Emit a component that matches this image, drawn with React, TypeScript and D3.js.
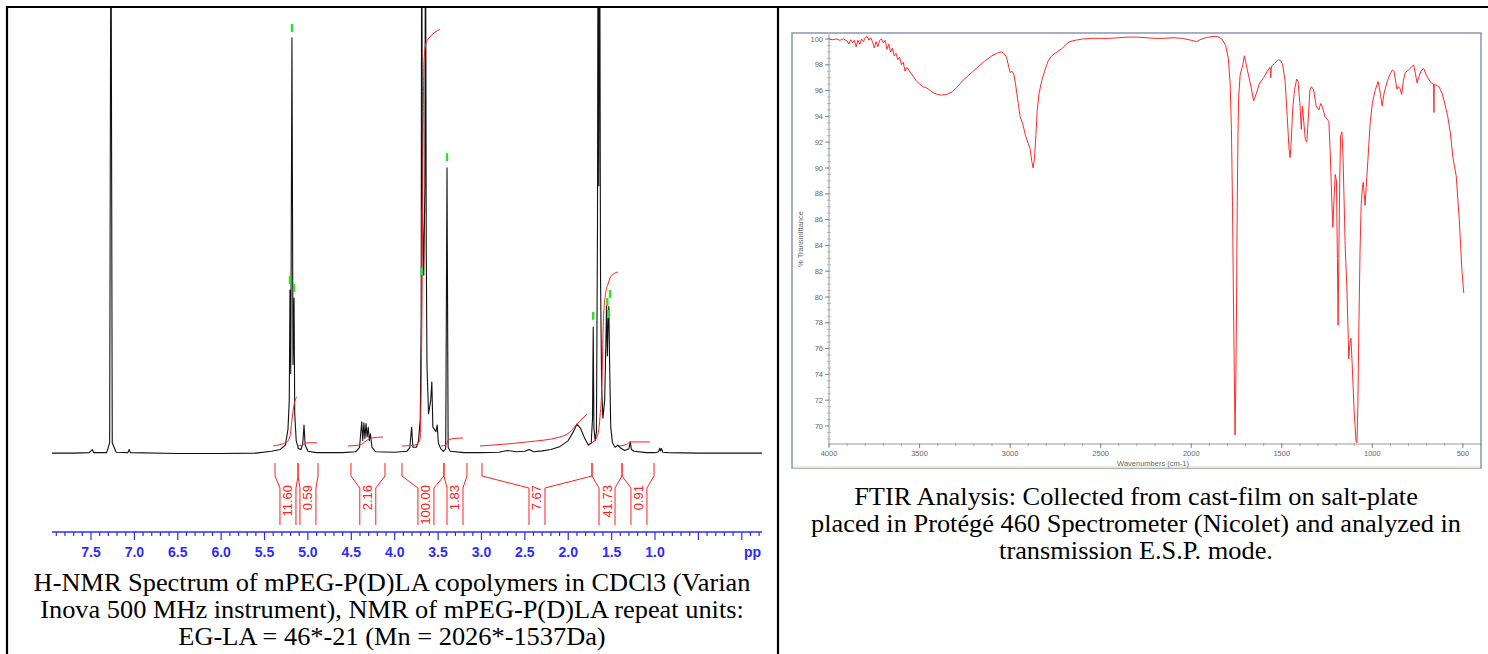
import { useEffect, useRef } from 'react';
import * as d3 from 'd3';

const W = 1488;
const H = 654;

// 1H NMR trace: [ppm, intensity], 100 ~ top of the frame
const NMR_TRACE: [number, number][] = [
  [7.95, 0.2], [7.7, 0.2], [7.52, 0.3], [7.485, 1.0], [7.47, 0.3], [7.32, 0.3], [7.285, 2.5],
  [7.27, 130], [7.255, 2.5], [7.21, 0.4], [7.075, 0.3], [7.06, 1.0], [7.045, 0.3], [6.5, 0.1],
  [6.0, 0.1], [5.6, 0.2], [5.42, 0.6], [5.32, 1.0], [5.26, 2.0], [5.23, 5.5], [5.215, 12],
  [5.207, 36.7], [5.198, 18], [5.184, 93.1], [5.172, 20], [5.16, 34.9], [5.152, 9], [5.135, 3],
  [5.11, 1.2], [5.08, 1.0], [5.06, 2.2], [5.045, 6.5], [5.032, 2], [5.0, 0.6], [4.9, 0.3],
  [4.6, 0.3], [4.45, 0.5], [4.405, 1.5], [4.38, 7.2], [4.368, 3], [4.355, 7.0], [4.343, 3.5],
  [4.33, 6.8], [4.318, 3.8], [4.305, 6.0], [4.292, 3], [4.28, 4.5], [4.262, 1.5], [4.22, 0.5],
  [4.0, 0.4], [3.86, 0.6], [3.825, 1.5], [3.805, 6.0], [3.79, 1.5], [3.75, 1.5], [3.725, 3],
  [3.705, 8], [3.695, 30], [3.689, 130], [3.68, 55], [3.665, 40], [3.652, 60], [3.645, 130],
  [3.636, 45], [3.628, 19.9], [3.61, 9], [3.585, 12], [3.572, 16.1], [3.56, 6], [3.525, 5],
  [3.51, 6.5], [3.497, 2.5], [3.47, 1.2], [3.44, 0.6], [3.412, 1.2], [3.397, 64], [3.384, 1.5],
  [3.36, 0.6], [3.2, 0.3], [3.0, 0.3], [2.8, 0.4], [2.7, 0.8], [2.6, 0.5], [2.5, 0.6],
  [2.45, 1.0], [2.4, 0.5], [2.3, 0.7], [2.2, 1.0], [2.1, 1.6], [2.0, 3.0], [1.94, 5.0],
  [1.9, 6.7], [1.86, 5.8], [1.81, 3.5], [1.77, 2.0], [1.735, 2.5], [1.72, 8], [1.712, 28.4],
  [1.704, 6], [1.69, 3], [1.675, 5], [1.663, 50], [1.656, 130], [1.648, 60], [1.638, 130],
  [1.628, 40], [1.615, 15], [1.6, 8], [1.58, 12], [1.566, 25], [1.558, 33.3], [1.549, 22],
  [1.54, 30], [1.532, 33], [1.523, 20], [1.51, 6], [1.49, 2.5], [1.46, 1.5], [1.43, 2.0],
  [1.40, 1.4], [1.35, 0.8], [1.30, 1.2], [1.285, 2.7], [1.272, 1.0], [1.24, 0.6], [1.1, 0.3],
  [1.0, 0.3], [0.96, 0.5], [0.945, 1.3], [0.935, 0.7], [0.925, 1.2], [0.91, 0.4], [0.85, 0.3],
  [0.5, 0.2], [0.0, 0.2], [-0.3, 0.2],
];

// integral curves (red), one list per region
const NMR_INTEGRALS: [number, number][][] = [
  [[5.402, 1.8], [5.241, 2.7], [5.207, 4.0], [5.184, 7.6], [5.16, 11], [5.126, 12.8]],
  [[5.126, 1.8], [5.057, 2.0], [5.022, 2.5], [4.895, 2.5]],
  [[4.538, 1.8], [4.4, 2.0], [4.331, 2.9], [4.262, 3.6], [4.135, 3.8]],
  [[3.916, 1.8], [3.766, 2.0], [3.708, 3.1], [3.685, 34], [3.674, 68], [3.662, 88],
    [3.639, 92], [3.593, 93.3], [3.478, 95]],
  [[3.466, 1.8], [3.409, 2.0], [3.386, 3.1], [3.34, 3.4], [3.213, 3.6]],
  [[3.017, 1.8], [2.475, 2.7], [2.095, 3.8], [1.98, 4.9], [1.899, 6.7], [1.784, 8.9]],
  [[1.772, 1.8], [1.714, 2.7], [1.668, 3.8], [1.634, 8.3], [1.611, 16], [1.599, 27],
    [1.576, 35], [1.542, 38], [1.496, 40], [1.427, 40.7]],
  [[1.415, 1.8], [1.323, 2.2], [1.288, 2.7], [1.058, 2.7]],
];

const INTEGRAL_REGIONS = [
  { from: 5.379, to: 5.114, mid: 5.23, value: '11.60' },
  { from: 5.114, to: 4.884, mid: 5.0, value: '0.59' },
  { from: 4.504, to: 4.112, mid: 4.31, value: '2.16' },
  { from: 3.916, to: 3.432, mid: 3.64, value: '100.00' },
  { from: 3.432, to: 3.167, mid: 3.305, value: '1.83' },
  { from: 2.994, to: 1.726, mid: 2.36, value: '7.67' },
  { from: 1.726, to: 1.38, mid: 1.553, value: '41.73' },
  { from: 1.38, to: 1.011, mid: 1.185, value: '0.91' },
];

// green peak-pick marks: [ppm, intensity at top of mark]
const PEAK_PICKS: [number, number][] = [
  [5.184, 96.2], [5.207, 39.8], [5.16, 38.0], [3.397, 67.3], [3.689, 41.8],
  [1.712, 31.8], [1.55, 34.9], [1.518, 36.7], [1.54, 32.2],
];

const PPM_LABELS = [7.5, 7.0, 6.5, 6.0, 5.5, 5.0, 4.5, 4.0, 3.5, 3.0, 2.5, 2.0, 1.5, 1.0];

// FTIR trace: [wavenumber cm-1, %T]
const FTIR_TRACE: [number, number][] = [
  [4000, 100.0], [3980, 99.95], [3960, 100.0], [3940, 99.9], [3920, 100.0], [3900, 99.85],
  [3890, 99.6], [3880, 99.95], [3870, 99.7], [3860, 99.9], [3850, 99.4], [3840, 99.9],
  [3830, 99.6], [3820, 100.0], [3810, 99.8], [3800, 100.1], [3790, 100.2], [3780, 99.9],
  [3770, 100.1], [3760, 99.8], [3750, 99.3], [3740, 99.8], [3730, 99.4], [3720, 99.9],
  [3710, 100.0], [3700, 99.7], [3690, 99.9], [3680, 99.2], [3670, 99.6], [3660, 99.0],
  [3650, 99.3], [3640, 98.7], [3630, 98.9], [3620, 98.4], [3610, 98.6], [3600, 98.0],
  [3590, 98.2], [3580, 97.5], [3570, 97.8], [3550, 97.4], [3520, 96.8], [3500, 96.5],
  [3480, 96.3], [3460, 96.2], [3440, 96.0], [3420, 95.8], [3400, 95.7], [3380, 95.65],
  [3350, 95.7], [3320, 95.9], [3290, 96.3], [3260, 96.8], [3220, 97.3], [3180, 97.8],
  [3140, 98.3], [3100, 98.7], [3070, 98.9], [3050, 99.0], [3035, 98.9], [3020, 98.6],
  [3010, 98.0], [3000, 97.4], [2990, 97.5], [2980, 97.3], [2970, 96.5], [2955, 95.0],
  [2945, 94.0], [2930, 93.4], [2915, 92.5], [2900, 91.9], [2890, 91.5], [2880, 90.5],
  [2873, 90.0], [2865, 90.8], [2858, 92.5], [2850, 94.5], [2840, 95.8], [2825, 96.8],
  [2810, 97.5], [2790, 98.3], [2770, 98.7], [2740, 99.0], [2710, 99.3], [2690, 99.6],
  [2670, 99.8], [2640, 99.9], [2600, 100.0], [2550, 100.05], [2500, 100.05], [2450, 100.05],
  [2400, 100.1], [2350, 100.15], [2300, 100.15], [2250, 100.1], [2200, 100.05], [2150, 100.05],
  [2100, 100.1], [2050, 100.05], [2000, 99.9], [1970, 99.8], [1950, 99.95], [1920, 100.1],
  [1880, 100.2], [1855, 100.2], [1830, 100.0], [1810, 99.5], [1795, 98.5], [1785, 96.5],
  [1778, 93.0], [1772, 87.0], [1767, 80.0], [1762, 74.0], [1758, 69.3], [1754, 73.0],
  [1750, 79.0], [1746, 87.0], [1742, 92.5], [1738, 95.5], [1730, 97.2], [1715, 98.0],
  [1707, 98.7], [1700, 98.3], [1690, 97.6], [1670, 96.3], [1655, 95.2], [1640, 95.8],
  [1625, 96.5], [1600, 97.0], [1580, 97.5], [1565, 97.8], [1561, 97.0], [1557, 97.9],
  [1540, 98.1], [1520, 98.4], [1505, 98.3], [1495, 98.0], [1482, 96.8], [1470, 94.0],
  [1460, 91.5], [1454, 90.8], [1448, 92.0], [1440, 94.5], [1430, 96.0], [1418, 96.9],
  [1410, 96.7], [1400, 95.0], [1392, 93.0], [1386, 94.8], [1378, 93.5], [1370, 92.2],
  [1362, 92.0], [1355, 93.5], [1345, 96.0], [1337, 96.3], [1325, 96.1], [1310, 94.8],
  [1295, 94.5], [1285, 95.0], [1275, 94.7], [1262, 94.0], [1250, 93.8], [1240, 93.6],
  [1232, 91.0], [1225, 88.0], [1218, 85.4], [1212, 87.5], [1205, 89.5], [1198, 89.0],
  [1193, 83.0], [1189, 77.8], [1185, 83.0], [1180, 89.0], [1175, 92.5], [1168, 92.8],
  [1162, 91.0], [1150, 84.0], [1140, 80.5], [1130, 75.2], [1124, 76.4], [1118, 76.8],
  [1112, 75.0], [1100, 71.0], [1090, 68.8], [1085, 68.7], [1080, 71.5], [1074, 78.0],
  [1068, 83.5], [1062, 87.0], [1055, 88.5], [1050, 88.9], [1045, 88.0], [1040, 87.1],
  [1034, 88.5], [1025, 90.5], [1012, 93.5], [1000, 95.0], [985, 96.0], [968, 96.7],
  [955, 95.7], [946, 94.8], [935, 95.8], [920, 96.6], [905, 97.2], [890, 97.6], [880, 97.5],
  [870, 96.6], [864, 96.1], [858, 96.3], [848, 96.2], [838, 95.7], [828, 96.8], [818, 97.4],
  [800, 97.6], [785, 97.8], [772, 98.0], [762, 97.3], [753, 96.6], [740, 97.2], [728, 97.6],
  [716, 97.7], [705, 97.3], [690, 96.9], [675, 96.6], [662, 96.5], [660, 94.3], [658, 96.5],
  [645, 96.4], [632, 96.3], [615, 95.8], [600, 95.0], [585, 94.1], [570, 92.8], [555, 90.8],
  [537, 89.4], [520, 86.0], [505, 82.0], [495, 80.3],
];

const FTIR_X_TICKS = [4000, 3500, 3000, 2500, 2000, 1500, 1000, 500];
const FTIR_Y_TICKS = [70, 72, 74, 76, 78, 80, 82, 84, 86, 88, 90, 92, 94, 96, 98, 100];

const NMR_CAPTION = [
  'H-NMR Spectrum of mPEG-P(D)LA copolymers in CDCl3 (Varian',
  'Inova 500 MHz instrument), NMR of mPEG-P(D)LA repeat units:',
  'EG-LA = 46*-21 (Mn = 2026*-1537Da)',
];
const FTIR_CAPTION = [
  'FTIR Analysis: Collected from cast-film on salt-plate',
  'placed in Protégé 460 Spectrometer (Nicolet) and analyzed in',
  'transmission E.S.P. mode.',
];

const SANS = '"Liberation Sans", Arial, sans-serif';
const SERIF = '"Liberation Serif", "Times New Roman", serif';

export default function App() {
  const svgRef = useRef<SVGSVGElement>(null);

  useEffect(() => {
    if (!svgRef.current) return;
    const svg = d3.select(svgRef.current);
    svg.selectAll('*').remove();
    const defs = svg.append('defs');

    // ---------- NMR ----------
    const x = d3.scaleLinear().domain([7.5, 1.0]).range([91, 655]);
    const y = d3.scaleLinear().domain([0, 100]).range([454, 7]);

    defs.append('clipPath').attr('id', 'nmr-clip')
      .append('rect').attr('x', 9).attr('y', 8).attr('width', 753).attr('height', 560);

    const nmr = svg.append('g').attr('clip-path', 'url(#nmr-clip)');

    const line = d3.line<[number, number]>().x((d) => x(d[0])).y((d) => y(d[1]));

    nmr.append('path')
      .attr('d', line(NMR_TRACE))
      .attr('fill', 'none')
      .attr('stroke', '#111')
      .attr('stroke-width', 1.1)
      .attr('stroke-linejoin', 'round');

    NMR_INTEGRALS.forEach((seg) => {
      nmr.append('path')
        .attr('d', line.curve(d3.curveMonotoneX)(seg))
        .attr('fill', 'none')
        .attr('stroke', '#ff2020')
        .attr('stroke-width', 1);
    });
    line.curve(d3.curveLinear);

    nmr.selectAll('.pick')
      .data(PEAK_PICKS)
      .enter()
      .append('rect')
      .attr('x', (d) => x(d[0]) - 1.2)
      .attr('y', (d) => y(d[1]))
      .attr('width', 2.4)
      .attr('height', 8)
      .attr('fill', '#2ee02e');

    // integral brackets
    INTEGRAL_REGIONS.forEach((r) => {
      const xl = x(r.from);
      const xr = x(r.to);
      const c = x(r.mid);
      const p = d3.path();
      p.moveTo(xl, 463); p.lineTo(xl, 476); p.lineTo(c - 8, 488); p.lineTo(c - 8, 525);
      p.moveTo(xr, 463); p.lineTo(xr, 476); p.lineTo(c + 8, 488); p.lineTo(c + 8, 525);
      nmr.append('path').attr('d', p.toString()).attr('fill', 'none')
        .attr('stroke', '#ff2020').attr('stroke-width', 1);
      nmr.append('text')
        .attr('transform', `translate(${c},485) rotate(-90)`)
        .attr('text-anchor', 'end')
        .attr('dominant-baseline', 'central')
        .attr('font-family', SANS)
        .attr('font-size', 13)
        .attr('fill', '#ff2020')
        .text(r.value);
    });

    // ppm axis
    const axisY = 532;
    const blue = '#2b2bff';
    nmr.append('line').attr('x1', 52).attr('x2', 762).attr('y1', axisY).attr('y2', axisY)
      .attr('stroke', blue).attr('stroke-width', 1.3);
    const minor = d3.range(-2, 80).map((i) => i / 10);
    nmr.selectAll('.ppm-tick')
      .data(minor)
      .enter()
      .append('line')
      .attr('x1', (d) => x(d))
      .attr('x2', (d) => x(d))
      .attr('y1', axisY)
      .attr('y2', (d) => (Math.round(d * 10) % 5 === 0 ? axisY + 8 : axisY + 4))
      .attr('stroke', blue)
      .attr('stroke-width', 1.2);
    nmr.selectAll('.ppm-label')
      .data(PPM_LABELS)
      .enter()
      .append('text')
      .attr('x', (d) => x(d))
      .attr('y', 557)
      .attr('text-anchor', 'middle')
      .attr('font-family', SANS)
      .attr('font-weight', 'bold')
      .attr('font-size', 14)
      .attr('fill', blue)
      .text((d) => d.toFixed(1));
    nmr.append('text').attr('x', 744).attr('y', 557)
      .attr('font-family', SANS).attr('font-weight', 'bold').attr('font-size', 14)
      .attr('fill', blue).text('ppm');

    // ---------- FTIR ----------
    const fx = d3.scaleLinear().domain([4000, 400]).range([829, 1481]);
    const fy = d3.scaleLinear().domain([70, 100]).range([426, 39]);
    const gray = '#666';

    svg.append('rect').attr('x', 792).attr('y', 33).attr('width', 689).attr('height', 435)
      .attr('fill', '#fff').attr('stroke', '#8a97ad').attr('stroke-width', 1.5);
    svg.append('line').attr('x1', 793).attr('x2', 1480).attr('y1', 467).attr('y2', 467)
      .attr('stroke', '#ecebd8').attr('stroke-width', 2);

    defs.append('clipPath').attr('id', 'ftir-clip')
      .append('rect').attr('x', 829).attr('y', 34).attr('width', 652).attr('height', 410);

    const ftir = svg.append('g');
    ftir.append('line').attr('x1', 829).attr('x2', 829).attr('y1', 34).attr('y2', 444)
      .attr('stroke', '#999').attr('stroke-width', 1);
    ftir.append('line').attr('x1', 829).attr('x2', 1481).attr('y1', 444).attr('y2', 444)
      .attr('stroke', '#999').attr('stroke-width', 1);

    const yMinor = d3.range(69, 100.5, 0.5);
    ftir.selectAll('.fy-minor').data(yMinor).enter().append('line')
      .attr('x1', 827).attr('x2', 831)
      .attr('y1', (d) => fy(d)).attr('y2', (d) => fy(d))
      .attr('stroke', '#aaa').attr('stroke-width', 0.8);
    ftir.selectAll('.fy-major').data(FTIR_Y_TICKS).enter().append('line')
      .attr('x1', 825).attr('x2', 829)
      .attr('y1', (d) => fy(d)).attr('y2', (d) => fy(d))
      .attr('stroke', '#888').attr('stroke-width', 1);
    ftir.selectAll('.fy-label').data(FTIR_Y_TICKS).enter().append('text')
      .attr('x', 823).attr('y', (d) => fy(d))
      .attr('text-anchor', 'end').attr('dominant-baseline', 'central')
      .attr('font-family', SANS).attr('font-size', 7.5).attr('fill', gray)
      .text((d) => d);

    const xMinor = d3.range(400, 4001, 100);
    ftir.selectAll('.fx-minor').data(xMinor).enter().append('line')
      .attr('x1', (d) => fx(d)).attr('x2', (d) => fx(d))
      .attr('y1', 443).attr('y2', 446)
      .attr('stroke', '#999').attr('stroke-width', 0.8);
    ftir.selectAll('.fx-major').data(FTIR_X_TICKS).enter().append('line')
      .attr('x1', (d) => fx(d)).attr('x2', (d) => fx(d))
      .attr('y1', 444).attr('y2', 448)
      .attr('stroke', '#888').attr('stroke-width', 1);
    ftir.selectAll('.fx-label').data(FTIR_X_TICKS).enter().append('text')
      .attr('x', (d) => fx(d)).attr('y', 456)
      .attr('text-anchor', 'middle')
      .attr('font-family', SANS).attr('font-size', 7.5).attr('fill', gray)
      .text((d) => d);

    ftir.append('text').attr('x', 1153).attr('y', 465.5).attr('text-anchor', 'middle')
      .attr('font-family', SANS).attr('font-size', 7.5).attr('fill', gray)
      .text('Wavenumbers (cm-1)');
    ftir.append('text').attr('transform', 'translate(800,239) rotate(-90)')
      .attr('text-anchor', 'middle').attr('dominant-baseline', 'central')
      .attr('font-family', SANS).attr('font-size', 7.5).attr('fill', gray)
      .text('% Transmittance');

    const fline = d3.line<[number, number]>().x((d) => fx(d[0])).y((d) => fy(d[1]));
    ftir.append('path')
      .attr('clip-path', 'url(#ftir-clip)')
      .attr('d', fline(FTIR_TRACE))
      .attr('fill', 'none')
      .attr('stroke', '#ff2a2a')
      .attr('stroke-width', 1)
      .attr('stroke-linejoin', 'round');

    // ---------- table + captions ----------
    const table = svg.append('g').attr('stroke', '#000').attr('stroke-width', 2.2);
    table.append('line').attr('x1', 6).attr('x2', W).attr('y1', 7).attr('y2', 7);
    table.append('line').attr('x1', 7).attr('x2', 7).attr('y1', 6).attr('y2', H);
    table.append('line').attr('x1', 778).attr('x2', 778).attr('y1', 6).attr('y2', H);

    // caption lines: a touch wider than the serif face, so stretch horizontally
    const caption = (lines: string[], cx: number, y0: number) => {
      svg.append('g').selectAll('text').data(lines).enter().append('text')
        .attr('transform', (_, i) => `translate(${cx},${y0 + i * 27}) scale(1.09,1)`)
        .attr('text-anchor', 'middle')
        .attr('font-family', SERIF).attr('font-size', 24.2).attr('fill', '#000')
        .text((d) => d);
    };
    caption(NMR_CAPTION, 392, 591);
    caption(FTIR_CAPTION, 1136, 505);
  }, []);

  return (
    <svg
      ref={svgRef}
      width={W}
      height={H}
      style={{ position: 'absolute', left: 0, top: 0, background: '#fff' }}
    />
  );
}
